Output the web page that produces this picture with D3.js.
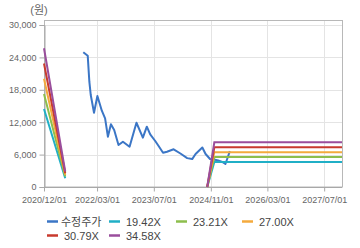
<!DOCTYPE html>
<html>
<head>
<meta charset="utf-8">
<script src="https://d3js.org/d3.v7.min.js"></script>
<style>
  body { margin: 0; background: #fff; }
  text { font-family: "Liberation Sans", Arial, "Noto Sans CJK KR", sans-serif; }
</style>
</head>
<body>
<script>
"use strict";

// price line (수정주가)
var priceDates = ["2021-11-03", "2021-12-11", "2021-12-25", "2022-01-06", "2022-02-03",
  "2022-03-04", "2022-04-11", "2022-05-09", "2022-06-02", "2022-06-28", "2022-07-26",
  "2022-09-01", "2022-10-09", "2022-12-05", "2023-02-02", "2023-03-29", "2023-05-02",
  "2023-05-31", "2023-07-13", "2023-08-11", "2023-09-18", "2023-10-22", "2023-12-18",
  "2024-02-14", "2024-04-12", "2024-05-25", "2024-06-23", "2024-08-20", "2024-09-17",
  "2024-10-25", "2024-11-28", "2025-01-03", "2025-02-07", "2025-03-06", "2025-03-27",
  "2025-04-13"];
var priceValues = [24950, 24320, 19500, 17040, 13760,
  16850, 14130, 12720, 9315, 11610, 10555,
  7780, 8390, 7460, 11900, 9130, 11170,
  9760, 8520, 7590, 6350, 6540, 6980,
  6200, 5350, 5170, 6100, 7310, 6110,
  5180, 5090, 4900, 4630, 4260, 5560,
  6650];

// PER band lines
var bandNames = ["19.42X", "23.21X", "27.00X", "30.79X", "34.58X"];
var bandDates = ["2020-12-01", "2021-06-01", "2021-07-01", "2024-10-01", "2024-12-01", "2027-12-01"];
var band1942 = [14430, 1612, null, 0, 4641, 4641];
var band2321 = [17245, 1926, null, 0, 5547, 5547];
var band2700 = [20060, 2241, null, 0, 6453, 6453];
var band3079 = [22877, 2556, null, 0, 7359, 7359];
var band3458 = [25693, 2870, null, 0, 8265, 8265];

var xTicks = ["2020-12-01", "2022-03-01", "2023-07-01", "2024-11-01", "2026-03-01", "2027-07-01"];
var yTicks = [0, 6000, 12000, 18000, 24000, 30000];

var legendNames = ["수정주가"].concat(bandNames);
var colors = ["#3b76c6", "#20afc6", "#8dbe4c", "#f4aa3d", "#c83a2e", "#9a4e9c"];

var W = 360, H = 248;
var pLeft = 44, pRight = 342, pTop = 20.5, pBottom = 187;

var parse = d3.timeParse("%Y-%m-%d");

var svg = d3.select("body").append("svg")
    .attr("width", W)
    .attr("height", H);

var x = d3.scaleTime()
    .domain([parse("2020-12-01"), parse("2027-12-01")])
    .range([pLeft, pRight]);
var y = d3.scaleLinear()
    .domain([0, 30000])
    .range([pBottom, 25]);

// grid
svg.append("g").selectAll("line")
    .data(yTicks.slice(1)).enter().append("line")
    .attr("x1", pLeft).attr("x2", pRight)
    .attr("y1", function(d) { return Math.round(y(d)) + 0.5; })
    .attr("y2", function(d) { return Math.round(y(d)) + 0.5; })
    .attr("stroke", "#e4e4e4");
svg.append("g").selectAll("line")
    .data(xTicks.slice(1)).enter().append("line")
    .attr("y1", pTop).attr("y2", pBottom)
    .attr("x1", function(d) { return Math.round(x(parse(d))) + 0.5; })
    .attr("x2", function(d) { return Math.round(x(parse(d))) + 0.5; })
    .attr("stroke", "#e4e4e4");

// frame
svg.append("rect")
    .attr("x", pLeft + 0.5).attr("y", pTop)
    .attr("width", pRight - pLeft).attr("height", pBottom - pTop)
    .attr("fill", "none")
    .attr("stroke", "#b8b8b8");

// axes
var yAxis = svg.append("g")
    .attr("transform", "translate(" + (pLeft + 0.5) + ",0)")
    .call(d3.axisLeft(y).tickValues(yTicks).tickSize(5).tickPadding(3)
      .tickFormat(d3.format(",")));
var xAxis = svg.append("g")
    .attr("transform", "translate(0," + (pBottom + 0.5) + ")")
    .call(d3.axisBottom(x).tickValues(xTicks.map(parse)).tickSize(4).tickPadding(5)
      .tickFormat(d3.timeFormat("%Y/%m/%d")));
[yAxis, xAxis].forEach(function(a) {
  a.select(".domain").attr("stroke", "#a8a8a8");
  a.selectAll(".tick line").attr("stroke", "#a8a8a8");
  a.selectAll(".tick text").attr("fill", "#666").style("font-size", "9px");
});
xAxis.select(".domain").attr("d", "M" + pLeft + ",0H" + pRight);

svg.append("text")
    .attr("x", 39).attr("y", 14)
    .attr("text-anchor", "middle")
    .attr("fill", "#666")
    .style("font-size", "11px")
    .text("(원)");

// lines
var line = d3.line()
    .defined(function(d) { return d.v !== null; })
    .x(function(d) { return x(d.t); })
    .y(function(d) { return y(d.v); });

var plot = svg.append("g");

plot.append("path")
    .datum(priceDates.map(function(d, i) { return { t: parse(d), v: priceValues[i] }; }))
    .attr("d", line)
    .attr("fill", "none")
    .attr("stroke", colors[0])
    .attr("stroke-width", 2)
    .attr("stroke-linejoin", "round");

[band1942, band2321, band2700, band3079, band3458].forEach(function(vals, k) {
  plot.append("path")
      .datum(bandDates.map(function(d, i) { return { t: parse(d), v: vals[i] }; }))
      .attr("d", line)
      .attr("fill", "none")
      .attr("stroke", colors[k + 1])
      .attr("stroke-width", 2);
});

// legend
var legendPos = [[47, 221.5], [109, 221.5], [176, 221.5], [242, 221.5], [47, 235.5], [109, 235.5]];
var legend = svg.append("g").selectAll("g")
    .data(legendNames).enter().append("g")
    .attr("transform", function(d, i) {
      return "translate(" + legendPos[i][0] + "," + legendPos[i][1] + ")";
    });
legend.append("line")
    .attr("x1", 0).attr("x2", 11)
    .attr("stroke", function(d, i) { return colors[i]; })
    .attr("stroke-width", 2.5);
legend.append("text")
    .attr("x", function(d, i) { return i == 0 ? 14 : 17; })
    .attr("y", 4)
    .attr("fill", "#444")
    .style("font-size", "11px")
    .text(function(d) { return d; });
</script>
</body>
</html>
